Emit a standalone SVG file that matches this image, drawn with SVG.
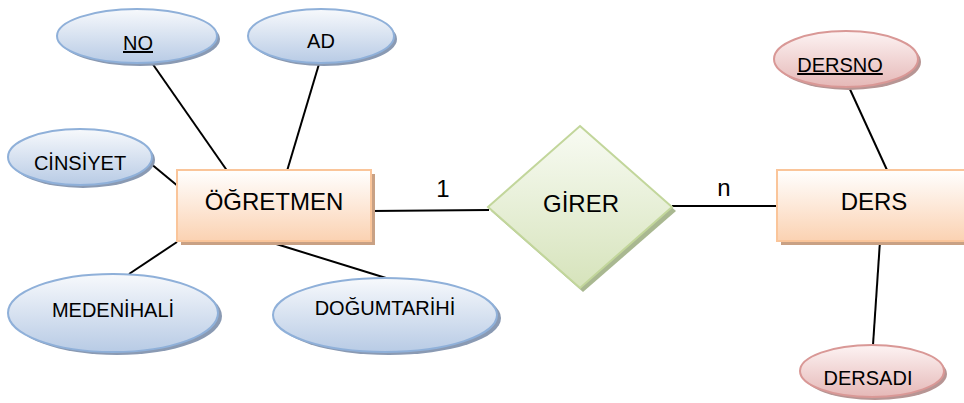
<svg xmlns="http://www.w3.org/2000/svg" width="964" height="403" viewBox="0 0 964 403">
<defs>
<linearGradient id="gBlue" x1="0" y1="0" x2="0" y2="1"><stop offset="0" stop-color="#f7f9fc"/><stop offset="1" stop-color="#b8cbe5"/></linearGradient>
<linearGradient id="gPink" x1="0" y1="0" x2="0" y2="1"><stop offset="0" stop-color="#fdf3f3"/><stop offset="1" stop-color="#e5b8b7"/></linearGradient>
<linearGradient id="gOrange" x1="0" y1="0" x2="0" y2="1"><stop offset="0" stop-color="#ffffff"/><stop offset="1" stop-color="#fbd2b2"/></linearGradient>
<linearGradient id="gGreen" x1="0" y1="0" x2="0" y2="1"><stop offset="0" stop-color="#f8fbf3"/><stop offset="1" stop-color="#d6e3bb"/></linearGradient>
</defs>
<style>
text{font-family:"Liberation Sans",Arial,sans-serif;fill:#000;text-anchor:middle}
.attr{font-size:20px}
.ent{font-size:24px}
.lbl{font-size:24px}
.blue{fill:url(#gBlue);stroke:#8fb0d9;stroke-width:2}
.blueSh{fill:#8a9ab3}
.pink{fill:url(#gPink);stroke:#d99896;stroke-width:2}
.pinkSh{fill:#b79594}
.orange{fill:url(#gOrange);stroke:#fac59a;stroke-width:2}
.orangeSh{fill:#c9a184}
.green{fill:url(#gGreen);stroke:#c2d69b;stroke-width:2}
.greenSh{fill:#a9b891}
.conn line{stroke:#000;stroke-width:2}
</style>
<rect width="964" height="403" fill="#fff"/>
<g class="conn" id="connectors">
<line x1="152" y1="63" x2="228" y2="172"/>
<line x1="319" y1="64" x2="287" y2="171"/>
<line x1="150" y1="163" x2="179" y2="187"/>
<line x1="177" y1="242" x2="129" y2="274"/>
<line x1="273" y1="243" x2="386" y2="278"/>
<line x1="371" y1="211" x2="489" y2="210"/>
<line x1="672" y1="206" x2="777" y2="206"/>
<line x1="848" y1="85" x2="887" y2="170"/>
<line x1="880" y1="241" x2="873" y2="345"/>
</g>
<g id="lbl1"><text class="lbl" x="443" y="197">1</text></g>
<g id="lbln"><text class="lbl" x="724" y="196">n</text></g>
<g id="NO">
<ellipse class="blueSh" cx="140" cy="39" rx="80" ry="27"/>
<ellipse class="blue" cx="137" cy="36" rx="80" ry="27"/>
<text class="attr" x="138" y="50" text-decoration="underline">NO</text>
</g>
<g id="AD">
<ellipse class="blueSh" cx="324" cy="39" rx="73" ry="27"/>
<ellipse class="blue" cx="321" cy="36" rx="73" ry="27"/>
<text class="attr" x="321" y="48">AD</text>
</g>
<g id="CINSIYET">
<ellipse class="blueSh" cx="83" cy="160" rx="72" ry="28"/>
<ellipse class="blue" cx="80" cy="157" rx="72" ry="28"/>
<text class="attr" x="80" y="170">CİNSİYET</text>
</g>
<g id="OGRETMEN">
<rect class="orangeSh" x="181" y="174" width="194" height="71"/>
<rect class="orange" x="177" y="170" width="194" height="71"/>
<text class="ent" x="274" y="210">ÖĞRETMEN</text>
</g>
<g id="MEDENIHALI">
<ellipse class="blueSh" cx="117" cy="316" rx="105" ry="39"/>
<ellipse class="blue" cx="113" cy="313" rx="105" ry="39"/>
<text class="attr" x="113" y="317">MEDENİHALİ</text>
</g>
<g id="DOGUMTARIHI">
<ellipse class="blueSh" cx="389" cy="318" rx="112" ry="37"/>
<ellipse class="blue" cx="385" cy="315" rx="112" ry="37"/>
<text class="attr" x="385" y="315">DOĞUMTARİHİ</text>
</g>
<g id="GIRER">
<polygon class="greenSh" points="583,130 676,211 583,292 491,211"/>
<polygon class="green" points="580,126 672,207 580,288 488,207"/>
<text class="ent" x="581" y="212">GİRER</text>
</g>
<g id="DERS">
<rect class="orangeSh" x="781" y="174" width="194" height="71"/>
<rect class="orange" x="777" y="170" width="194" height="71"/>
<text class="ent" x="874" y="210">DERS</text>
</g>
<g id="DERSNO">
<ellipse class="pinkSh" cx="849" cy="62" rx="72" ry="28"/>
<ellipse class="pink" cx="846" cy="59" rx="72" ry="28"/>
<text class="attr" x="840" y="72" text-decoration="underline">DERSNO</text>
</g>
<g id="DERSADI">
<ellipse class="pinkSh" cx="875" cy="374" rx="72" ry="26"/>
<ellipse class="pink" cx="872" cy="371" rx="72" ry="26"/>
<text class="attr" x="868" y="385">DERSADI</text>
</g>
</svg>
